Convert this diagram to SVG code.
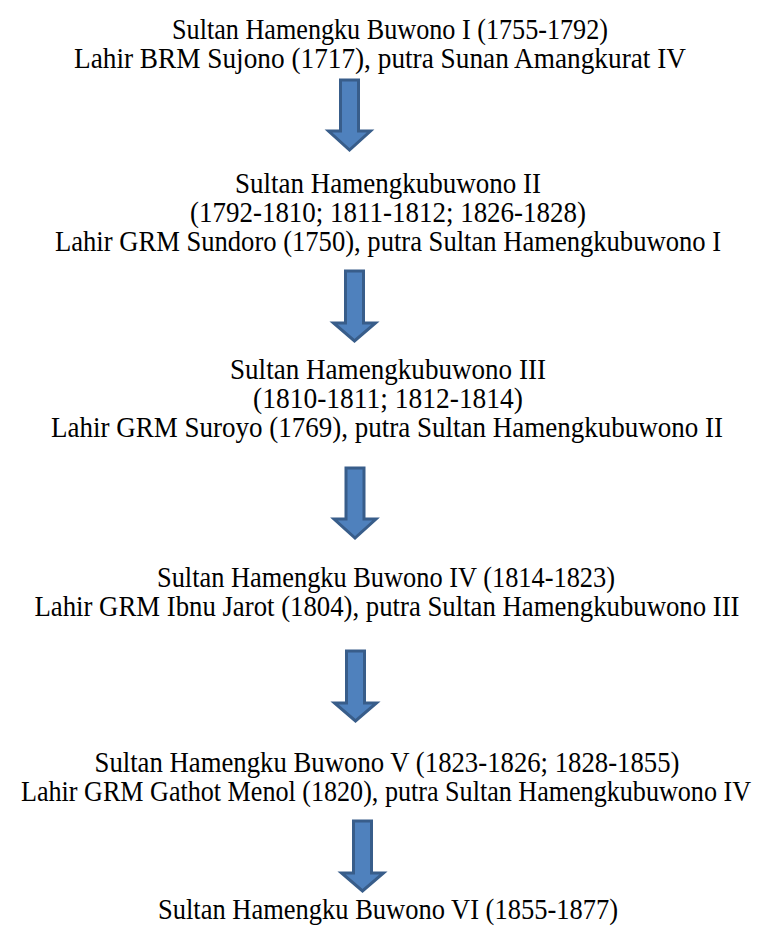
<svg xmlns="http://www.w3.org/2000/svg" width="761" height="927" viewBox="0 0 761 927">
<style>
text{font-family:"Liberation Serif","Times New Roman",serif;font-size:26px;fill:#000;text-anchor:middle}
.arrow{fill:#4f81bd;stroke:#385d8a;stroke-width:3;stroke-linejoin:miter}
</style>
<rect width="761" height="927" fill="#fff"/>
<g id="connectors">
<polygon class="arrow" points="340.5,80 358.5,80 358.5,131 370.5,131 349.5,150 328.5,131 340.5,131"/>
<polygon class="arrow" points="345.5,271 363.5,271 363.5,323 375.5,323 354.5,341 333.5,323 345.5,323"/>
<polygon class="arrow" points="346,468 364,468 364,519 376,519 355,538 334,519 346,519"/>
<polygon class="arrow" points="346.5,651 364.5,651 364.5,703 376.5,703 355.5,721 334.5,703 346.5,703"/>
<polygon class="arrow" points="353.5,821 371.5,821 371.5,873 383.5,873 362.5,891 341.5,873 353.5,873"/>
</g>
<g id="hb1">
<text transform="translate(390,39) scale(1,1.11)" textLength="436" lengthAdjust="spacingAndGlyphs">Sultan Hamengku Buwono I (1755-1792)</text>
<text transform="translate(380,68) scale(1,1.11)" textLength="612" lengthAdjust="spacingAndGlyphs">Lahir BRM Sujono (1717), putra Sunan Amangkurat IV</text>
</g>
<g id="hb2">
<text transform="translate(388,193) scale(1,1.11)" textLength="306" lengthAdjust="spacingAndGlyphs">Sultan Hamengkubuwono II</text>
<text transform="translate(388,222) scale(1,1.11)" textLength="396" lengthAdjust="spacingAndGlyphs">(1792-1810; 1811-1812; 1826-1828)</text>
<text transform="translate(388,251) scale(1,1.11)" textLength="666" lengthAdjust="spacingAndGlyphs">Lahir GRM Sundoro (1750), putra Sultan Hamengkubuwono I</text>
</g>
<g id="hb3">
<text transform="translate(388,379) scale(1,1.11)" textLength="316" lengthAdjust="spacingAndGlyphs">Sultan Hamengkubuwono III</text>
<text transform="translate(388,408) scale(1,1.11)" textLength="270" lengthAdjust="spacingAndGlyphs">(1810-1811; 1812-1814)</text>
<text transform="translate(387,437) scale(1,1.11)" textLength="672" lengthAdjust="spacingAndGlyphs">Lahir GRM Suroyo (1769), putra Sultan Hamengkubuwono II</text>
</g>
<g id="hb4">
<text transform="translate(386,587) scale(1,1.11)" textLength="458" lengthAdjust="spacingAndGlyphs">Sultan Hamengku Buwono IV (1814-1823)</text>
<text transform="translate(387,616) scale(1,1.11)" textLength="705" lengthAdjust="spacingAndGlyphs">Lahir GRM Ibnu Jarot (1804), putra Sultan Hamengkubuwono III</text>
</g>
<g id="hb5">
<text transform="translate(387,772) scale(1,1.11)" textLength="585" lengthAdjust="spacingAndGlyphs">Sultan Hamengku Buwono V (1823-1826; 1828-1855)</text>
<text transform="translate(386,801) scale(1,1.11)" textLength="730" lengthAdjust="spacingAndGlyphs">Lahir GRM Gathot Menol (1820), putra Sultan Hamengkubuwono IV</text>
</g>
<g id="hb6">
<text transform="translate(388,919) scale(1,1.11)" textLength="460" lengthAdjust="spacingAndGlyphs">Sultan Hamengku Buwono VI (1855-1877)</text>
</g>
</svg>
